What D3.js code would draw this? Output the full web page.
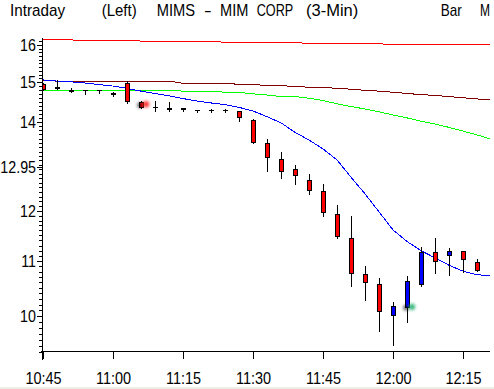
<!DOCTYPE html>
<html><head><meta charset="utf-8">
<script src="https://cdn.jsdelivr.net/npm/d3@7"></script>
<style>
html,body{margin:0;padding:0;background:#fff;}
svg{display:block;}
text{font-family:"Liberation Sans",Arial,sans-serif;fill:#000;}
</style></head><body>
<svg id="chart" width="494" height="389"></svg>
<script>
// ---------------- data ----------------
const barTimes = ["10:45","10:48","10:51","10:54","10:57","11:00","11:03","11:06","11:09","11:12","11:15","11:18","11:21","11:24","11:27","11:30","11:33","11:36","11:39","11:42","11:45","11:48","11:51","11:54","11:57","12:00","12:03","12:06","12:09","12:12","12:15","12:18"];
const openVals  = [14.95,14.88,14.80,14.81,14.80,14.71,14.99,14.50,14.37,14.35,14.34,14.29,14.29,14.29,14.26,14.04,13.49,13.12,12.90,12.66,12.42,11.93,11.44,10.75,10.58,10.01,10.16,10.58,11.17,11.11,11.19,10.99];
const highVals  = [14.97,15.06,14.84,14.81,14.80,14.75,15.02,14.52,14.52,14.49,14.34,14.30,14.32,14.33,14.27,14.07,13.59,13.29,12.99,12.79,12.57,12.12,11.89,10.91,10.68,10.24,10.71,11.27,11.44,11.25,11.19,11.03];
const lowVals   = [14.81,14.82,14.74,14.69,14.73,14.65,14.47,14.35,14.27,14.26,14.27,14.25,14.25,14.25,14.03,13.51,12.87,12.71,12.58,12.36,11.90,11.44,10.54,10.29,9.75,9.51,9.90,10.54,10.78,10.74,10.79,10.82];
const closeVals = [14.82,14.86,14.78,14.80,14.79,14.70,14.51,14.37,14.36,14.32,14.33,14.29,14.29,14.29,14.11,13.52,13.17,12.85,12.76,12.44,11.97,11.48,10.77,10.60,10.08,10.17,10.62,11.17,11.01,11.19,11.03,10.84];

// moving-average lines: one value per bar plus a final value at the right edge
const lineTimes = barTimes.concat(["12:21"]);
const maRed    = [16.15,16.14,16.14,16.13,16.13,16.12,16.12,16.11,16.11,16.10,16.10,16.09,16.09,16.08,16.08,16.07,16.07,16.06,16.06,16.05,16.05,16.04,16.04,16.03,16.03,16.02,16.02,16.01,16.01,16.01,16.00,16.00,16.00];
const maMaroon = [15.04,15.03,15.03,15.03,15.03,15.03,15.03,15.03,15.03,15.03,14.97,14.97,14.97,14.97,14.945,14.945,14.91,14.91,14.89,14.87,14.87,14.84,14.82,14.79,14.77,14.74,14.71,14.68,14.66,14.63,14.60,14.57,14.55];
const maGreen  = [14.79,14.79,14.79,14.79,14.79,14.79,14.79,14.79,14.79,14.79,14.77,14.77,14.77,14.74,14.74,14.70,14.67,14.63,14.63,14.59,14.53,14.45,14.38,14.32,14.25,14.17,14.10,14.02,13.95,13.87,13.78,13.69,13.59];
const maBlue   = [15.06,15.03,15.01,14.98,14.94,14.90,14.84,14.77,14.71,14.65,14.58,14.52,14.47,14.43,14.36,14.27,14.13,13.98,13.75,13.57,13.36,13.11,12.72,12.36,11.98,11.61,11.38,11.20,11.06,10.92,10.81,10.74,10.73];

const yTickValues = [10, 11, 12, 12.95, 14, 15, 16];
const xTickLabels = ["10:45","11:00","11:15","11:30","11:45","12:00","12:15"];
const titleTexts = ["Intraday","(Left)","MIMS","-","MIM","CORP","(3-Min)","Bar","M"];

const glowTimes  = ["11:06","12:03"];
const glowValues = [14.44, 10.16];

// ---------------- layout ----------------
const W = 494, H = 389;
const plot = {left: 43, right: 490, top: 38, bottom: 352};
const parseT = d3.timeParse("%H:%M");
const svg = d3.select("#chart");

svg.append("rect").attr("x",0).attr("y",0).attr("width",W).attr("height",H).attr("fill","#fff");
svg.append("rect").attr("x",0).attr("y",387).attr("width",W).attr("height",2).attr("fill","#efefe8");

const x = d3.scaleTime()
  .domain([parseT("10:45"), d3.timeSecond.offset(parseT("10:45"), Math.round((plot.right-plot.left)/70*15*60))])
  .range([plot.left, plot.right]);
const y = d3.scaleLog().domain([9.395, 16.195]).range([plot.bottom, plot.top]);

svg.append("defs").append("clipPath").attr("id","clip")
  .append("rect").attr("x",plot.left).attr("y",plot.top)
  .attr("width",plot.right-plot.left).attr("height",plot.bottom-plot.top);

const defs = svg.select("defs");
const f = defs.append("filter").attr("id","blur").attr("x","-100%").attr("y","-100%").attr("width","300%").attr("height","300%");
f.append("feGaussianBlur").attr("stdDeviation",1.6);

const g = svg.append("g").attr("clip-path","url(#clip)");

// lines
const lineGen = d3.line().x(d=>x(d.t)).y(d=>y(d.v));
const series = [
  {vals: maRed, color:"#ff0000"},
  {vals: maMaroon, color:"#800000"},
  {vals: maGreen, color:"#00ff00"},
  {vals: maBlue, color:"#0000ff"}
];
series.forEach(s=>{
  const pts = lineTimes.map((t,i)=>({t:parseT(t), v:s.vals[i]}));
  g.append("path").datum(pts).attr("d",lineGen)
    .attr("fill","none").attr("stroke",s.color).attr("stroke-width",1)
    .attr("shape-rendering","crispEdges");
});

// candles
const bars = barTimes.map((t,i)=>({t:parseT(t),o:openVals[i],h:highVals[i],l:lowVals[i],c:closeVals[i]}));
const cg = g.append("g").attr("shape-rendering","crispEdges");
bars.forEach(b=>{
  const cx = Math.round(x(b.t));
  cg.append("line").attr("x1",cx+0.5).attr("x2",cx+0.5)
    .attr("y1",Math.round(y(b.h))).attr("y2",Math.round(y(b.l))+1)
    .attr("stroke","#000").attr("stroke-width",1);
  const top = Math.round(y(Math.max(b.o,b.c)));
  const bot = Math.round(y(Math.min(b.o,b.c)));
  const fill = b.c > b.o ? "#0000ff" : (b.c < b.o ? "#ff0000" : "#000");
  cg.append("rect").attr("x",cx-1.5).attr("y",top+0.5)
    .attr("width",4).attr("height",Math.max(bot-top,0.01))
    .attr("fill",fill).attr("stroke","#000").attr("stroke-width",1);
});

// glow markers
glowTimes.forEach((t,i)=>{
  const gx = x(parseT(t)), gy = y(glowValues[i]);
  const col = i===0 ? "#ff1a1a" : "#22b070";
  g.append("circle").attr("cx",gx-1).attr("cy",gy+1).attr("r",3)
    .attr("fill","#000").attr("opacity",0.55).attr("filter","url(#blur)");
  g.append("circle").attr("cx",gx+5).attr("cy",gy).attr("r",3.2)
    .attr("fill",col).attr("opacity",0.9).attr("filter","url(#blur)");
});

function squeeze(sel, ratio){
  sel.each(function(){
    const w = this.getComputedTextLength();
    this.setAttribute("textLength", (w*ratio).toFixed(1));
    this.setAttribute("lengthAdjust","spacingAndGlyphs");
  });
}

// y axis minor ticks
const minorVals = d3.range(94, 162).map(d=>d/10);
svg.append("g").attr("transform",`translate(${plot.left-1},0)`)
  .call(d3.axisLeft(y).tickValues(minorVals).tickSize(3).tickSizeOuter(0).tickFormat(""))
  .call(a=>a.select(".domain").remove())
  .attr("shape-rendering","crispEdges");

// y axis major
const yAx = svg.append("g").attr("transform",`translate(${plot.left-1},0)`)
  .call(d3.axisLeft(y).tickValues(yTickValues).tickSize(5).tickSizeOuter(0).tickPadding(1)
    .tickFormat(d => d===12.95 ? "12.95" : String(d)))
  .attr("shape-rendering","crispEdges");
yAx.select(".domain").attr("d",`M0.5,${plot.top}V${plot.bottom+8}`).attr("stroke","#000");
yAx.selectAll(".tick line").attr("stroke","#000");
yAx.selectAll("text").attr("font-size",17).attr("font-family",'"Liberation Sans",Arial,sans-serif').attr("fill","#000");
squeeze(yAx.selectAll("text"), 0.84);

// x axis
const xAx = svg.append("g").attr("transform",`translate(0,${plot.bottom-1})`)
  .call(d3.axisBottom(x).tickValues(xTickLabels.map(parseT)).tickSize(8).tickSizeOuter(0).tickPadding(13)
    .tickFormat(d3.timeFormat("%H:%M")))
  .attr("shape-rendering","crispEdges");
xAx.select(".domain").attr("d",`M${plot.left-2},0.5H${plot.right}`).attr("stroke","#000");
xAx.selectAll(".tick line").attr("stroke","#000");
xAx.selectAll("text").attr("font-size",17).attr("font-family",'"Liberation Sans",Arial,sans-serif').attr("fill","#000");
squeeze(xAx.selectAll("text"), 0.85);

// title row
const titleLayout = [[10,55],[101.7,35],[156.7,38.3],[204,7.7],[220,28.3],[256.7,36.6],[306,52.3],[440.7,21],[480,10]];
titleTexts.forEach((t,i)=>{
  svg.append("text").attr("x",titleLayout[i][0]).attr("y",15.5)
    .attr("font-size",17).attr("textLength",titleLayout[i][1]).attr("lengthAdjust","spacingAndGlyphs")
    .attr("fill", t==="M" && i===titleTexts.length-1 ? "#a00000" : "#000")
    .text(t);
});
</script>
</body></html>
